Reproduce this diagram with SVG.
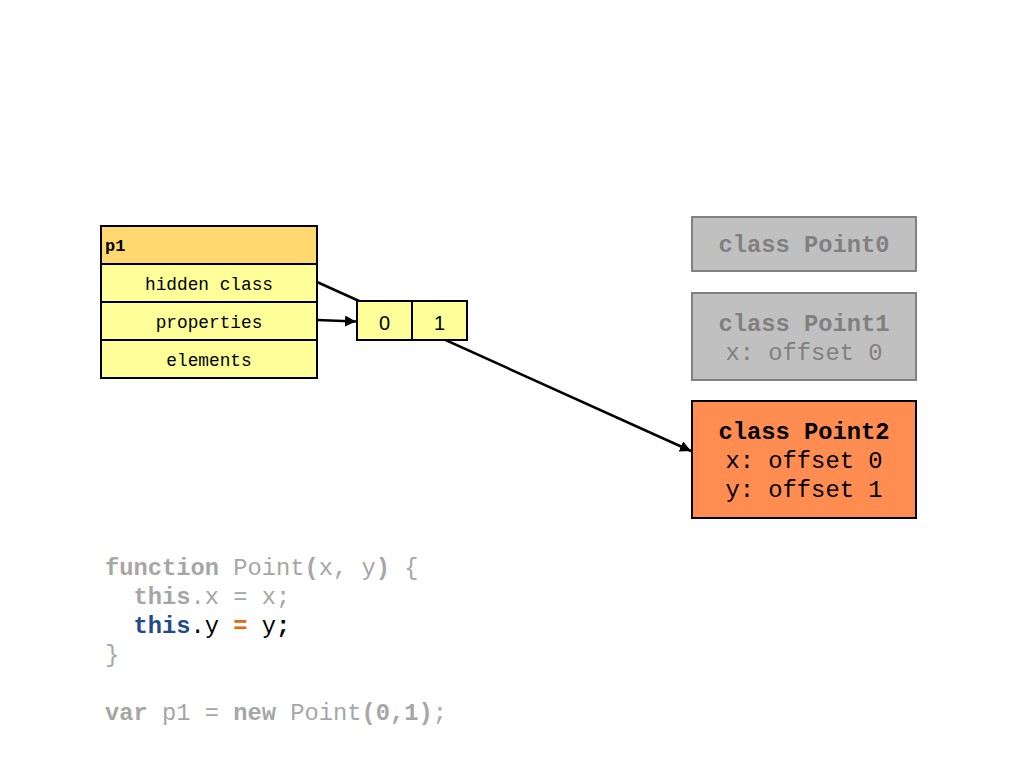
<svg xmlns="http://www.w3.org/2000/svg" width="1024" height="768" viewBox="0 0 1024 768">
<defs>
<marker id="ah" viewBox="0 0 10 10" refX="10" refY="5" markerWidth="11" markerHeight="11" markerUnits="userSpaceOnUse" orient="auto"><path d="M0,0 L10,5 L0,10 z" fill="#000"/></marker>
<style>
.mono{font-family:"Liberation Mono","Courier New",monospace;}
.row{fill:#FFFF99;stroke:#000;stroke-width:2;}
.rowt{font-family:"Liberation Mono",monospace;font-size:17.8px;text-anchor:middle;fill:#000;}
.gbox{fill:#C0C0C0;stroke:#808080;stroke-width:2;}
.gt{font-family:"Liberation Mono",monospace;font-size:23.75px;text-anchor:middle;fill:#808080;}
.code{font-family:"Liberation Mono",monospace;font-size:23.75px;fill:#A6A6A6;}
.b{font-weight:bold;}
.conn{stroke:#000;stroke-width:2.5;fill:none;}
</style>
</defs>
<rect width="1024" height="768" fill="#fff"/>
<g id="connectors">
<line class="conn" x1="317" y1="282" x2="691" y2="451" marker-end="url(#ah)"/>
<line class="conn" x1="317" y1="320" x2="356" y2="321.5" marker-end="url(#ah)"/>
</g>
<g id="p1">
<rect x="101" y="226" width="216" height="38" fill="#FFD970" stroke="#000" stroke-width="2"/>
<text x="105" y="251" class="mono b" font-size="17">p1</text>
<rect class="row" x="101" y="264" width="216" height="38"/>
<text class="rowt" x="209" y="290">hidden class</text>
<rect class="row" x="101" y="302" width="216" height="38"/>
<text class="rowt" x="209" y="328">properties</text>
<rect class="row" x="101" y="340" width="216" height="38"/>
<text class="rowt" x="209" y="366">elements</text>
</g>
<g id="props">
<rect class="row" x="357" y="301" width="55" height="39"/>
<rect class="row" x="412" y="301" width="55" height="39"/>
<text x="384.5" y="330" font-family="Liberation Sans,Arial,sans-serif" font-size="20" text-anchor="middle">0</text>
<text x="439.5" y="330" font-family="Liberation Sans,Arial,sans-serif" font-size="20" text-anchor="middle">1</text>
</g>
<g id="point0">
<rect class="gbox" x="692" y="217" width="224" height="54"/>
<text class="gt b" x="804" y="252">class Point0</text>
</g>
<g id="point1">
<rect class="gbox" x="692" y="293" width="224" height="87"/>
<text class="gt b" x="804" y="331">class Point1</text>
<text class="gt" x="804" y="360">x: offset 0</text>
</g>
<g id="point2">
<rect x="692" y="401" width="224" height="117" fill="#FF8C50" stroke="#000" stroke-width="2"/>
<text class="gt b" x="804" y="439" style="fill:#000">class Point2</text>
<text class="gt" x="804" y="468" style="fill:#000">x: offset 0</text>
<text class="gt" x="804" y="497" style="fill:#000">y: offset 1</text>
</g>
<g id="code" class="code">
<text x="105" y="575"><tspan class="b">function</tspan> Point<tspan class="b">(</tspan>x, y<tspan class="b">)</tspan> {</text>
<text x="133.5" y="604"><tspan class="b">this</tspan>.x = x;</text>
<text x="133.5" y="633"><tspan class="b" fill="#1F4A8C">this</tspan><tspan fill="#000">.y </tspan><tspan class="b" fill="#E06810">=</tspan><tspan fill="#000"> y</tspan><tspan fill="#000" class="b">;</tspan></text>
<text x="105" y="662">}</text>
<text x="105" y="720"><tspan class="b">var</tspan> p1 = <tspan class="b">new</tspan> Point<tspan class="b">(0,1)</tspan>;</text>
</g>
</svg>
